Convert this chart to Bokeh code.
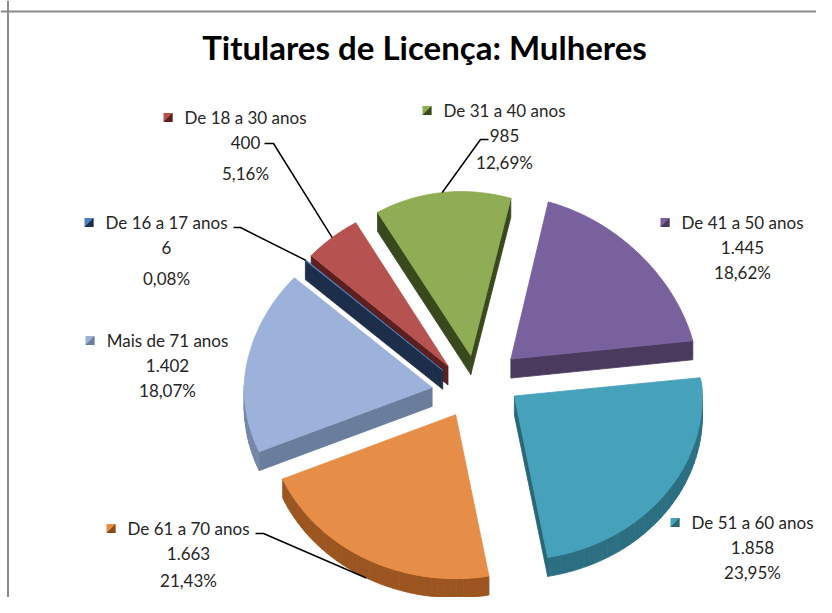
import math
from bokeh.plotting import figure
from bokeh.models import Range1d, Span
from bokeh.core.properties import value
from bokeh.embed import file_html
from bokeh.resources import INLINE

# ---------------- data ----------------
categories = ["De 16 a 17 anos", "De 18 a 30 anos", "De 31 a 40 anos",
              "De 41 a 50 anos", "De 51 a 60 anos", "De 61 a 70 anos",
              "Mais de 71 anos"]
counts = [6, 400, 985, 1445, 1858, 1663, 1402]
title_text = "Titulares de Licença: Mulheres"

# ---------------- styles ----------------
top_colors = ["#4F81BD", "#B65350", "#8FAD54", "#79619D", "#46A1BA", "#E68D47", "#9DB2DA"]
arc_colors = ["#2A4568", "#7A2E2B", "#6E8A3A", "#55427A", "#2C6F82", "#9C5520", "#7487A8"]
rad_colors = ["#1C2E4A", "#5A1F1E", "#3A481E", "#4A3A5E", "#2A6676", "#8A4A1A", "#6A7D9C"]

W, H = 816, 597
CX, CY = 477, 384              # pie centre
RX, RY, T = 188, 164, 19       # radii and thickness
EX, EY, EG = 46, 30, -8        # explosion (x, y, tilt skew)
VX, PERSP = 335, 0.07          # perspective: far side narrows toward VX
START = 312.0                  # angle of first slice, clockwise from 12 o'clock

# label layout: text centre x, first line y, third-line offset
label_layout = [(166, 222, 56), (245, 117, 56), (504, 110, 52), (742, 222, 50),
                (752, 522, 50), (188, 528, 52), (167, 340, 50)]
# leader elbows or None
leader_layout = [((233, 227), (240, 227)), ((264, 143), (273, 143)),
                 ((488, 139), (480, 139)), None, None,
                 ((255, 533), (263, 533)), None]

total = sum(counts)
fracs = [c / total for c in counts]


def fmt_int(n):
    return f"{n:,}".replace(",", ".")


def fmt_pct(f):
    return f"{f * 100:.2f}%".replace(".", ",")


count_labels = [fmt_int(c) for c in counts]
pct_labels = [fmt_pct(f) for f in fracs]

p = figure(width=W, height=H, x_range=Range1d(0, W), y_range=Range1d(H, 0),
           output_backend="svg", toolbar_location=None,
           x_axis_type=None, y_axis_type=None, min_border=0)
p.grid.visible = False
p.outline_line_color = None
p.background_fill_color = "white"

p.add_layout(Span(location=7.5, dimension="height", line_color="#8A8A8A", line_width=2))
p.add_layout(Span(location=11, dimension="width", line_color="#8A8A8A", line_width=2))


def sxy(a_deg):
    a = math.radians(a_deg)
    return math.sin(a), math.cos(a)


def persp(x, y):
    f = 1 + PERSP * min(0.0, y - CY) / RY
    return VX + (x - VX) * f, y


slices = []
cum = 0.0
for i, f in enumerate(fracs):
    a0 = START + cum * 360
    a1 = START + (cum + f) * 360
    cum += f
    mid = (a0 + a1) / 2
    s, c = sxy(mid)
    ax, ay = CX + EX * s, CY - EY * c + EG * s
    n = max(2, int((a1 - a0) / 2) + 2)
    arc = []
    for j in range(n):
        a = a0 + (a1 - a0) * j / (n - 1)
        ss, cc = sxy(a)
        arc.append(persp(ax + RX * ss, ay - RY * cc))
    poly = [persp(ax, ay)] + arc
    ms, mc = sxy(mid)
    lead = persp(ax + RX * ms, ay - RY * mc)
    slices.append(dict(i=i, apex=poly[0], poly=poly, mid=mid, lead=lead))

xs, ys, fills = [], [], []
for sl in sorted(slices, key=lambda d: d["apex"][1] - 0.2 * RY * math.cos(math.radians(d["mid"]))):
    i = sl["i"]
    poly = sl["poly"]
    mx = sum(q[0] for q in poly) / len(poly)
    my = sum(q[1] for q in poly) / len(poly)
    npts = len(poly)
    for j in range(npts):
        p0 = poly[j]
        p1 = poly[(j + 1) % npts]
        dx, dy = p1[0] - p0[0], p1[1] - p0[1]
        nx, ny = dy, -dx
        qx, qy = (p0[0] + p1[0]) / 2 - mx, (p0[1] + p1[1]) / 2 - my
        if nx * qx + ny * qy < 0:
            nx, ny = -nx, -ny
        if ny <= 0:
            continue
        radial = (j == 0) or (j == npts - 1)
        col = rad_colors[i] if radial else arc_colors[i]
        xs.append([p0[0], p1[0], p1[0], p0[0]])
        ys.append([p0[1], p1[1], p1[1] + T, p0[1] + T])
        fills.append(col)
    xs.append([q[0] for q in poly]); ys.append([q[1] for q in poly]); fills.append(top_colors[i])

p.patches(xs, ys, fill_color=fills, line_color=fills, line_width=0.8)

# leader lines
lx, ly = [], []
for sl in slices:
    i = sl["i"]
    if leader_layout[i] is None:
        continue
    (e0, e1) = leader_layout[i]
    ex, ey = sl["lead"]
    if math.cos(math.radians(sl["mid"])) < 0:
        ey += T
    lx.append([e0[0], e1[0], ex])
    ly.append([e0[1], e1[1], ey])
p.multi_line(lx, ly, line_color="black", line_width=1.5)

# labels
FONT = value("Lato")
tx, ty, tt = [], [], []
sqx, sqy, sqc, trx, try_, trc = [], [], [], [], [], []
for i, name in enumerate(categories):
    cxl, y1, d3 = label_layout[i]
    tx += [cxl, cxl, cxl]
    ty += [y1, y1 + 25, y1 + d3]
    tt += [name, count_labels[i], pct_labels[i]]
    left = cxl - 63 - 19
    sqx.append([left, left + 9, left + 9, left]); sqy.append([y1 - 4.5, y1 - 4.5, y1 + 4.5, y1 + 4.5]); sqc.append(top_colors[i])
    trx.append([left + 9, left + 9, left]); try_.append([y1 - 4.5, y1 + 4.5, y1 + 4.5]); trc.append(rad_colors[i])
p.patches(sqx, sqy, fill_color=sqc, line_color=None)
p.patches(trx, try_, fill_color=trc, line_color=None)
p.text(tx, ty, text=tt, text_align="center", text_baseline="middle",
       text_font=FONT, text_font_size=value("17px"), text_color="#262626")

p.text([424], [46], text=[title_text], text_align="center", text_baseline="middle",
       text_font=FONT, text_font_size=value("33px"), text_font_style="bold", text_color="black")

open("out.html", "w").write(file_html(p, INLINE))
